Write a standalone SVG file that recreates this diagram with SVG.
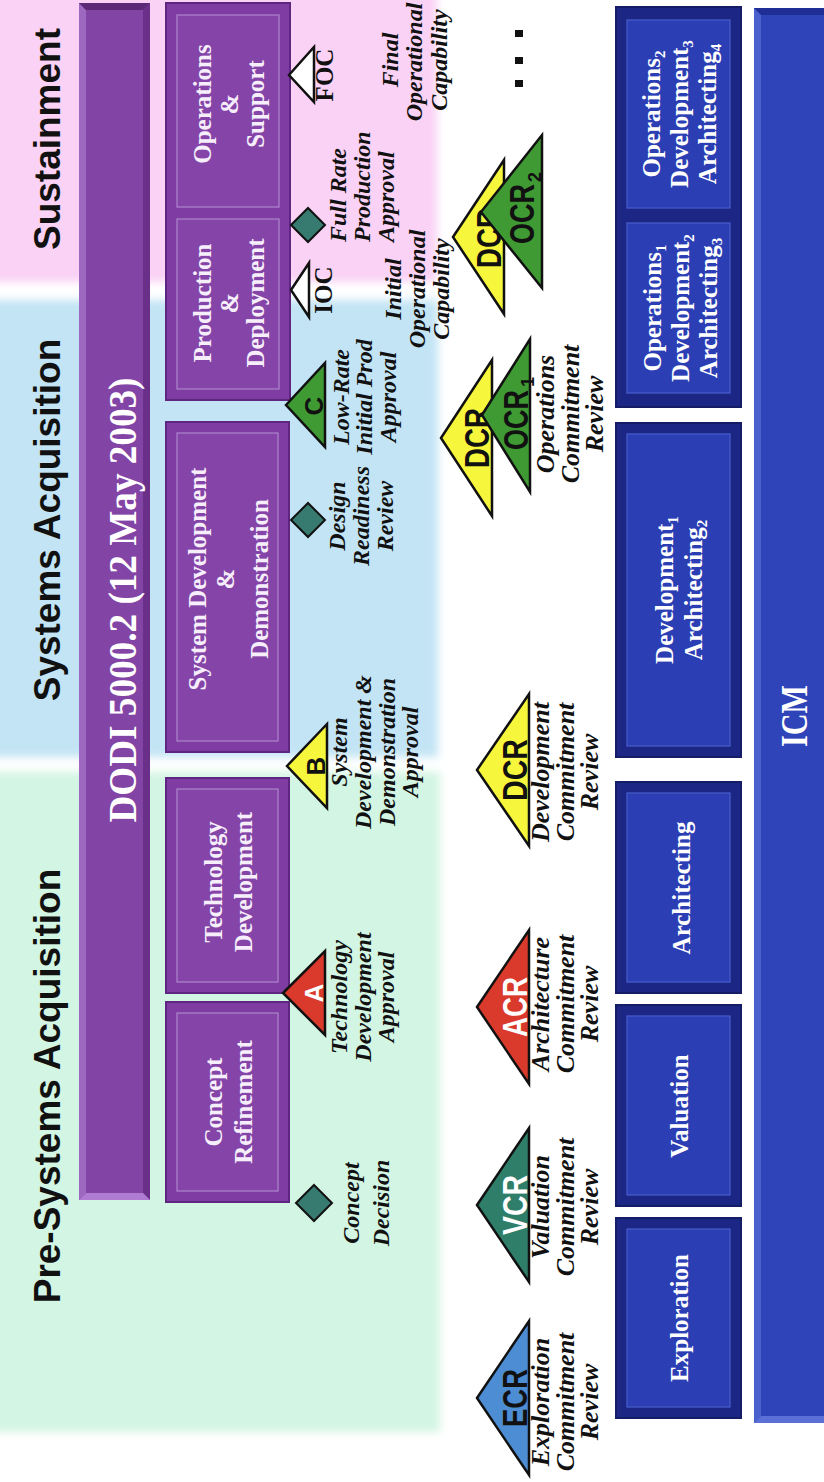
<svg xmlns="http://www.w3.org/2000/svg" width="824" height="1482" viewBox="0 0 824 1482">
<defs>
<filter id="soft" x="-5%" y="-5%" width="110%" height="110%"><feGaussianBlur stdDeviation="4"/></filter>
<style>
.hdr{font-family:"Liberation Sans",Arial,sans-serif;font-weight:bold;font-size:37px;fill:#111;text-anchor:middle}
.bt{font-family:"Liberation Serif","Times New Roman",serif;font-weight:bold;font-size:25px;fill:#fff;text-anchor:middle}
.pt{font-family:"Liberation Serif","Times New Roman",serif;font-weight:bold;font-size:25px;fill:#f6eefb;text-anchor:middle}
.lb{font-family:"Liberation Serif","Times New Roman",serif;font-weight:bold;font-style:italic;font-size:24px;fill:#111;text-anchor:middle}
.lb2{font-family:"Liberation Serif","Times New Roman",serif;font-weight:bold;font-style:italic;font-size:26px;fill:#111;text-anchor:middle}
.lbs{font-family:"Liberation Serif","Times New Roman",serif;font-weight:bold;font-style:italic;font-size:24px;fill:#111;text-anchor:start}
.ms{font-family:"Liberation Serif","Times New Roman",serif;font-weight:bold;font-size:25px;fill:#111;text-anchor:middle}
.cd{font-family:"Liberation Sans",Arial,sans-serif;font-weight:bold;font-size:35px;text-anchor:middle}
.lt{font-family:"Liberation Sans",Arial,sans-serif;font-weight:bold;font-size:26px;text-anchor:middle}
.sub{font-family:"Liberation Sans",Arial,sans-serif;font-weight:bold;font-size:18px;fill:#111}
.tri{stroke:#111;stroke-width:2.5;stroke-linejoin:miter}
.dia{fill:#377a70;stroke:#111;stroke-width:2}
.pbox{fill:#7f3ca2;stroke:#5e2680;stroke-width:2}
.pin{fill:#8545a8;stroke:#ad86cc;stroke-width:1.2}
.bbox{fill:#1c2684;stroke:#141c66;stroke-width:2}
.bin{fill:#2b3eb4;stroke:#4559c8;stroke-width:1.3}
</style>
</defs>
<rect width="824" height="1482" fill="#ffffff"/>
<g transform="translate(0,1482) rotate(-90)">
  <!-- background bands -->
  <g id="bands" filter="url(#soft)">
    <rect x="50" y="-20" width="660" height="460" fill="#d3f5e3"/>
    <rect x="725" y="-20" width="457" height="458" fill="#c2e4f4"/>
    <rect x="1200" y="-20" width="300" height="457" fill="#fad2f5"/>
  </g>
  <g id="headers">
    <text class="hdr" x="396" y="60">Pre-Systems Acquisition</text>
    <text class="hdr" x="962" y="60">Systems Acquisition</text>
    <text class="hdr" x="1343" y="60">Sustainment</text>
  </g>
  <!-- DODI bar -->
  <g id="dodi">
    <rect x="282" y="79" width="1197" height="71" fill="#8345a5"/>
    <polygon points="282,79 1479,79 1472,86 289,86" fill="#9d68c0"/>
    <polygon points="289,143 1472,143 1479,150 282,150" fill="#6a3089"/>
    <polygon points="282,79 289,86 289,143 282,150" fill="#b07bd2"/>
    <polygon points="1479,79 1472,86 1472,143 1479,150" fill="#5c2878"/>
    <text x="882" y="136" font-family="Liberation Serif, Times New Roman, serif" font-weight="bold" font-size="40" fill="#fff" text-anchor="middle" textLength="445" lengthAdjust="spacingAndGlyphs">DODI 5000.2 (12 May 2003)</text>
  </g>
  <!-- purple phases -->
  <g id="concept-refinement">
    <rect class="pbox" x="280" y="166" width="200" height="123"/>
    <rect class="pin" x="291" y="177" width="178" height="101"/>
    <text class="pt" x="380" y="222">Concept</text>
    <text class="pt" x="380" y="252">Refinement</text>
  </g>
  <g id="technology-development">
    <rect class="pbox" x="489" y="166" width="215" height="123"/>
    <rect class="pin" x="500" y="177" width="193" height="101"/>
    <text class="pt" x="600" y="222">Technology</text>
    <text class="pt" x="600" y="252">Development</text>
  </g>
  <g id="sdd">
    <rect class="pbox" x="730" y="166" width="330" height="123"/>
    <rect class="pin" x="741" y="177" width="308" height="101"/>
    <text class="pt" x="903" y="206">System Development</text>
    <text class="pt" x="903" y="234">&amp;</text>
    <text class="pt" x="903" y="268">Demonstration</text>
  </g>
  <g id="production-operations">
    <rect class="pbox" x="1082" y="166" width="397" height="124"/>
    <rect class="pin" x="1093" y="177" width="170" height="102"/>
    <rect class="pin" x="1275" y="177" width="192" height="102"/>
    <text class="pt" x="1179" y="211">Production</text>
    <text class="pt" x="1179" y="238">&amp;</text>
    <text class="pt" x="1179" y="264">Deployment</text>
    <text class="pt" x="1378" y="211">Operations</text>
    <text class="pt" x="1378" y="238">&amp;</text>
    <text class="pt" x="1378" y="264">Support</text>
  </g>
  <!-- DoD milestones -->
  <g id="concept-decision">
    <polygon class="dia" points="279,296 297,314 279,332 261,314"/>
    <text class="lb" x="279" y="359">Concept</text>
    <text class="lb" x="279" y="389">Decision</text>
  </g>
  <g id="ms-a">
    <polygon class="tri" fill="#d93a2b" points="489,283 531,325 447,325"/>
    <text class="lt" fill="#fff" x="489" y="323">A</text>
    <text class="lb" x="485" y="347">Technology</text>
    <text class="lb" x="485" y="371">Development</text>
    <text class="lb" x="485" y="394">Approval</text>
  </g>
  <g id="ms-b">
    <polygon class="tri" fill="#f6f63c" points="716,287 758,327 674,327"/>
    <text class="lt" fill="#111" x="716" y="325">B</text>
    <text class="lb" x="730" y="347">System</text>
    <text class="lb" x="730" y="371">Development &amp;</text>
    <text class="lb" x="730" y="395">Demonstration</text>
    <text class="lb" x="730" y="418">Approval</text>
  </g>
  <g id="drr">
    <polygon class="dia" points="962,291 979,308 962,325 945,308"/>
    <text class="lb" x="966" y="345">Design</text>
    <text class="lb" x="966" y="369">Readiness</text>
    <text class="lb" x="966" y="393">Review</text>
  </g>
  <g id="ms-c">
    <polygon class="tri" fill="#3f9a34" points="1077,286 1119,325 1035,325"/>
    <text class="lt" fill="#111" x="1076" y="323">C</text>
    <text class="lb" x="1085" y="349">Low-Rate</text>
    <text class="lb" x="1085" y="372">Initial Prod</text>
    <text class="lb" x="1085" y="396">Approval</text>
  </g>
  <g id="ioc">
    <polygon class="tri" fill="#fff" points="1192,291 1219,309 1165,309"/>
    <text class="ms" x="1192" y="332">IOC</text>
    <text class="lb" x="1193" y="401">Initial</text>
    <text class="lb" x="1193" y="425">Operational</text>
    <text class="lb" x="1193" y="449">Capability</text>
  </g>
  <g id="frpa">
    <polygon class="dia" points="1257,291 1274,308 1257,325 1240,308"/>
    <text class="lbs" x="1240" y="346">Full Rate</text>
    <text class="lbs" x="1240" y="370">Production</text>
    <text class="lbs" x="1240" y="394">Approval</text>
  </g>
  <g id="foc">
    <polygon class="tri" fill="#fff" points="1407,289 1435,314 1380,314"/>
    <text class="ms" x="1407" y="333">FOC</text>
    <text class="lb" x="1422" y="398">Final</text>
    <text class="lb" x="1420" y="422">Operational</text>
    <text class="lb" x="1422" y="447">Capability</text>
  </g>
  <g id="ellipsis" fill="#111">
    <rect x="1395" y="515" width="7" height="8"/>
    <rect x="1418" y="515" width="7" height="8"/>
    <rect x="1445" y="515" width="7" height="8"/>
  </g>
  <!-- ICM milestones -->
  <g id="ecr">
    <polygon class="tri" fill="#4c8dd3" points="84,477 161,529 7,529"/>
    <text class="cd" fill="#111" x="84" y="527" textLength="58" lengthAdjust="spacingAndGlyphs">ECR</text>
    <text class="lb2" x="80" y="549">Exploration</text>
    <text class="lb2" x="80" y="574">Commitment</text>
    <text class="lb2" x="80" y="598">Review</text>
  </g>
  <g id="vcr">
    <polygon class="tri" fill="#2f7e6a" points="277,477 354,529 200,529"/>
    <text class="cd" fill="#fff" x="277" y="527" textLength="60" lengthAdjust="spacingAndGlyphs">VCR</text>
    <text class="lb2" x="275" y="549">Valuation</text>
    <text class="lb2" x="275" y="574">Commitment</text>
    <text class="lb2" x="275" y="598">Review</text>
  </g>
  <g id="acr">
    <polygon class="tri" fill="#d93a2b" points="475,477 552,529 398,529"/>
    <text class="cd" fill="#fff" x="475" y="527" textLength="60" lengthAdjust="spacingAndGlyphs">ACR</text>
    <text class="lb2" x="478" y="549">Architecture</text>
    <text class="lb2" x="478" y="574">Commitment</text>
    <text class="lb2" x="478" y="598">Review</text>
  </g>
  <g id="dcr">
    <polygon class="tri" fill="#f6f63c" points="712,477 788,529 636,529"/>
    <text class="cd" fill="#111" x="712" y="527" textLength="62" lengthAdjust="spacingAndGlyphs">DCR</text>
    <text class="lb2" x="710" y="549">Development</text>
    <text class="lb2" x="710" y="574">Commitment</text>
    <text class="lb2" x="710" y="598">Review</text>
  </g>
  <g id="dcr-ocr1">
    <polygon class="tri" fill="#f6f63c" points="1044,441 1122,492 966,492"/>
    <text class="cd" fill="#111" x="1044" y="489" textLength="60" lengthAdjust="spacingAndGlyphs">DCR</text>
    <polygon class="tri" fill="#3f9a34" points="1067,482 1143,530 990,530"/>
    <text class="cd" fill="#111" x="1062" y="528" textLength="60" lengthAdjust="spacingAndGlyphs">OCR</text>
    <text class="sub" x="1095" y="534">1</text>
    <text class="lb2" x="1068" y="554">Operations</text>
    <text class="lb2" x="1068" y="579">Commitment</text>
    <text class="lb2" x="1068" y="603">Review</text>
  </g>
  <g id="dcr-ocr2">
    <polygon class="tri" fill="#f6f63c" points="1245,453 1322,504 1168,504"/>
    <text class="cd" fill="#111" x="1244" y="501" textLength="60" lengthAdjust="spacingAndGlyphs">DCR</text>
    <polygon class="tri" fill="#3f9a34" points="1270,481 1347,542 1194,542"/>
    <text class="cd" fill="#111" x="1268" y="534" textLength="60" lengthAdjust="spacingAndGlyphs">OCR</text>
    <text class="sub" x="1300" y="541">2</text>
  </g>
  <!-- ICM phases -->
  <g id="exploration">
    <rect class="bbox" x="64" y="616" width="200" height="125"/>
    <rect class="bin" x="75" y="627" width="178" height="103"/>
    <text class="bt" x="164" y="688">Exploration</text>
  </g>
  <g id="valuation">
    <rect class="bbox" x="276" y="616" width="201" height="125"/>
    <rect class="bin" x="287" y="627" width="179" height="103"/>
    <text class="bt" x="376" y="688">Valuation</text>
  </g>
  <g id="architecting">
    <rect class="bbox" x="489" y="616" width="211" height="125"/>
    <rect class="bin" x="500" y="627" width="189" height="103"/>
    <text class="bt" x="594" y="690">Architecting</text>
  </g>
  <g id="development1">
    <rect class="bbox" x="725" y="616" width="334" height="125"/>
    <rect class="bin" x="736" y="627" width="312" height="103"/>
    <text class="bt" x="892" y="673">Development<tspan font-size="15" dy="5">1</tspan></text>
    <text class="bt" x="892" y="702">Architecting<tspan font-size="15" dy="5">2</tspan></text>
  </g>
  <g id="operations">
    <rect class="bbox" x="1075" y="616" width="400" height="125"/>
    <rect class="bin" x="1089" y="627" width="170" height="103"/>
    <rect class="bin" x="1274" y="627" width="188" height="103"/>
    <text class="bt" x="1174" y="661">Operations<tspan font-size="15" dy="5">1</tspan></text>
    <text class="bt" x="1174" y="689">Development<tspan font-size="15" dy="5">2</tspan></text>
    <text class="bt" x="1174" y="717">Architecting<tspan font-size="15" dy="5">3</tspan></text>
    <text class="bt" x="1368" y="660">Operations<tspan font-size="15" dy="5">2</tspan></text>
    <text class="bt" x="1368" y="688">Development<tspan font-size="15" dy="5">3</tspan></text>
    <text class="bt" x="1368" y="716">Architecting<tspan font-size="15" dy="5">4</tspan></text>
  </g>
  <g id="icm">
    <rect x="59" y="754" width="1415" height="80" fill="#2e44b8"/>
    <polygon points="59,754 1474,754 1467,761 66,761" fill="#4a60cc"/>
    <polygon points="59,754 66,761 66,834 59,834" fill="#5a70d6"/>
    <polygon points="1474,754 1467,761 1467,834 1474,834" fill="#1f2f95"/>
    <text x="766" y="807" font-family="Liberation Serif, Times New Roman, serif" font-weight="bold" font-size="38" fill="#fff" text-anchor="middle" textLength="62" lengthAdjust="spacingAndGlyphs">ICM</text>
  </g>
</g>
</svg>
